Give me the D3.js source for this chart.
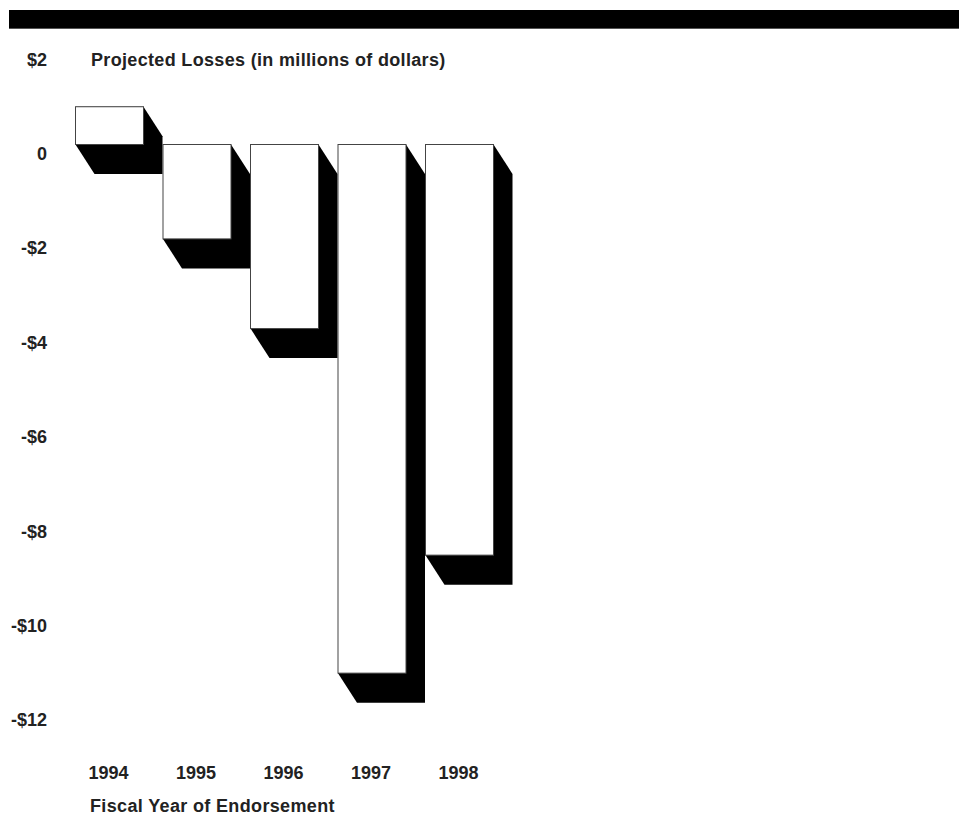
<!DOCTYPE html>
<html>
<head>
<meta charset="utf-8">
<script src="https://cdn.jsdelivr.net/npm/d3@7"></script>
<style>
  html, body { margin: 0; padding: 0; background: #fff; }
  svg { display: block; }
  text { font-family: "Liberation Sans", Arial, sans-serif; font-weight: bold; fill: #222; }
</style>
</head>
<body>
<svg id="chart" width="959" height="816"></svg>
<script>
// ---- data ----
const years = ["1994", "1995", "1996", "1997", "1998"];
const losses = [0.8, -2.0, -3.9, -11.2, -8.7];
const yTicks = [2, 0, -2, -4, -6, -8, -10, -12];
const yTickLabels = ["$2", "0", "-$2", "-$4", "-$6", "-$8", "-$10", "-$12"];
const titleText = "Projected Losses (in millions of dollars)";
const xTitleText = "Fiscal Year of Endorsement";

// ---- layout ----
const svg = d3.select("#chart");
const x = d3.scaleBand().domain(years).range([75.5, 493.5]).paddingInner(19.5 / 87.5).paddingOuter(0);
const y = d3.scaleLinear().domain([2, -12]).range([50.1, 710.9]);
const sdx = 19, sdy = 29.5;
const fs = 18;

// top black band
svg.append("rect").attr("x", 9).attr("y", 10).attr("width", 950).attr("height", 18).attr("fill", "#000");
svg.append("line").attr("x1", 9).attr("x2", 959).attr("y1", 28.5).attr("y2", 28.5).attr("stroke", "#555").attr("stroke-width", 1);

// title
svg.append("text").attr("x", 91).attr("y", 66).attr("font-size", fs)
  .attr("letter-spacing", "0.33px").text(titleText);

// y labels
svg.append("g").selectAll("text").data(yTicks).join("text")
  .attr("x", 47).attr("y", d => y(d) + 15.5)
  .attr("text-anchor", "end").attr("font-size", fs)
  .text((d, i) => yTickLabels[i]);

const data = years.map((yr, i) => ({ yr, v: losses[i] }));

// shadows
svg.append("g").selectAll("path").data(data).join("path")
  .attr("fill", "#000")
  .attr("d", d => {
    const x0 = x(d.yr), x1 = x(d.yr) + x.bandwidth();
    const y0 = Math.min(y(d.v), y(0)), y1 = Math.max(y(d.v), y(0));
    return `M${x0},${y0}L${x1},${y0}L${x1 + sdx},${y0 + sdy}L${x1 + sdx},${y1 + sdy}L${x0 + sdx},${y1 + sdy}L${x0},${y1}Z`;
  });

// bars
svg.append("g").selectAll("rect").data(data).join("rect")
  .attr("x", d => x(d.yr))
  .attr("y", d => Math.min(y(d.v), y(0)))
  .attr("width", x.bandwidth())
  .attr("height", d => Math.abs(y(d.v) - y(0)))
  .attr("fill", "#fff").attr("stroke", "#444").attr("stroke-width", 1);

// x labels
svg.append("g").selectAll("text").data(years).join("text")
  .attr("x", d => x(d) + x.bandwidth() / 2 - 1).attr("y", 779)
  .attr("text-anchor", "middle").attr("font-size", fs)
  .text(d => d);

svg.append("text").attr("x", 90).attr("y", 812).attr("font-size", fs)
  .attr("letter-spacing", "0.35px").text(xTitleText);
</script>
</body>
</html>
